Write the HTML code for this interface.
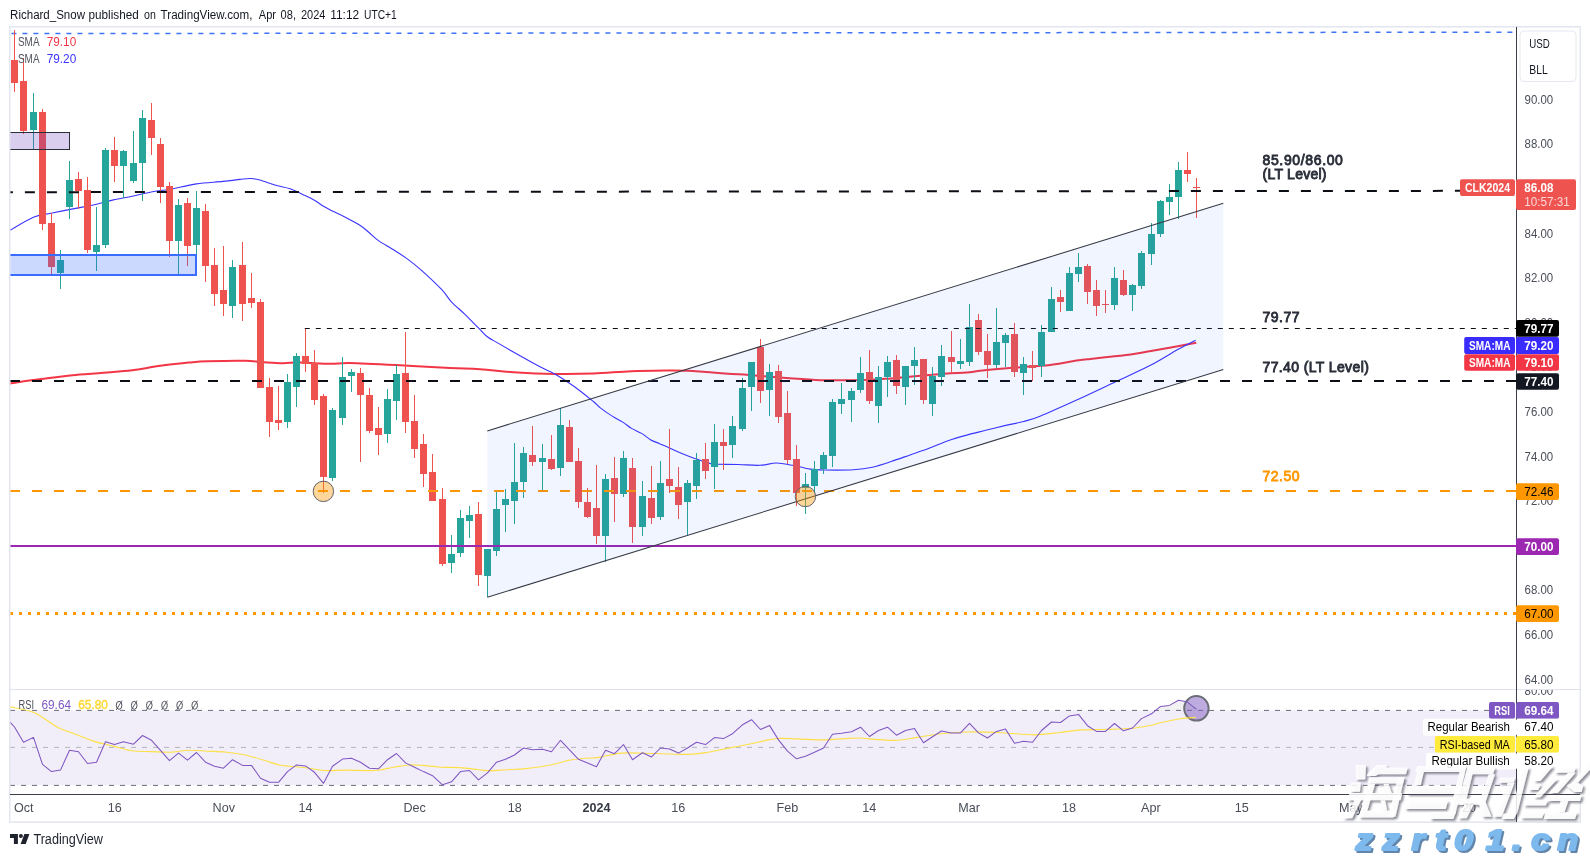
<!DOCTYPE html>
<html><head><meta charset="utf-8"><title>chart</title>
<style>html,body{margin:0;padding:0;background:#fff;}body{width:1590px;height:857px;overflow:hidden;font-family:"Liberation Sans",sans-serif;}svg{display:block;will-change:transform;}</style>
</head><body>
<svg width="1590" height="857" viewBox="0 0 1590 857" font-family='"Liberation Sans", sans-serif'>
<rect x="0" y="0" width="1590" height="857" fill="#ffffff"/>
<rect x="9.75" y="26.75" width="1570.5" height="795.4" fill="none" stroke="#e4e6ef" stroke-width="1.5"/>
<text x="10.1" y="19.20" font-size="12" fill="#131722" textLength="74.9" lengthAdjust="spacingAndGlyphs" >Richard_Snow</text>
<text x="88.6" y="19.20" font-size="12" fill="#131722" textLength="50.1" lengthAdjust="spacingAndGlyphs" >published</text>
<text x="144.0" y="19.20" font-size="12" fill="#131722" textLength="11.8" lengthAdjust="spacingAndGlyphs" >on</text>
<text x="160.6" y="19.20" font-size="12" fill="#131722" textLength="91.8" lengthAdjust="spacingAndGlyphs" >TradingView.com,</text>
<text x="258.8" y="19.20" font-size="12" fill="#131722" textLength="17.2" lengthAdjust="spacingAndGlyphs" >Apr</text>
<text x="280.6" y="19.20" font-size="12" fill="#131722" textLength="15.4" lengthAdjust="spacingAndGlyphs" >08,</text>
<text x="301.0" y="19.20" font-size="12" fill="#131722" textLength="24.4" lengthAdjust="spacingAndGlyphs" >2024</text>
<text x="330.2" y="19.20" font-size="12" fill="#131722" textLength="29.0" lengthAdjust="spacingAndGlyphs" >11:12</text>
<text x="364.0" y="19.20" font-size="12" fill="#131722" textLength="32.7" lengthAdjust="spacingAndGlyphs" >UTC+1</text>
<g font-family='"Liberation Sans", sans-serif'>
<text x="1524.6" y="683.62" font-size="12.6" fill="#4a4e59" textLength="28.6" lengthAdjust="spacingAndGlyphs" >64.00</text>
<text x="1524.6" y="639.02" font-size="12.6" fill="#4a4e59" textLength="28.6" lengthAdjust="spacingAndGlyphs" >66.00</text>
<text x="1524.6" y="594.42" font-size="12.6" fill="#4a4e59" textLength="28.6" lengthAdjust="spacingAndGlyphs" >68.00</text>
<text x="1524.6" y="549.82" font-size="12.6" fill="#4a4e59" textLength="28.6" lengthAdjust="spacingAndGlyphs" >70.00</text>
<text x="1524.6" y="505.22" font-size="12.6" fill="#4a4e59" textLength="28.6" lengthAdjust="spacingAndGlyphs" >72.00</text>
<text x="1524.6" y="460.62" font-size="12.6" fill="#4a4e59" textLength="28.6" lengthAdjust="spacingAndGlyphs" >74.00</text>
<text x="1524.6" y="416.02" font-size="12.6" fill="#4a4e59" textLength="28.6" lengthAdjust="spacingAndGlyphs" >76.00</text>
<text x="1524.6" y="371.42" font-size="12.6" fill="#4a4e59" textLength="28.6" lengthAdjust="spacingAndGlyphs" >78.00</text>
<text x="1524.6" y="326.82" font-size="12.6" fill="#4a4e59" textLength="28.6" lengthAdjust="spacingAndGlyphs" >80.00</text>
<text x="1524.6" y="282.22" font-size="12.6" fill="#4a4e59" textLength="28.6" lengthAdjust="spacingAndGlyphs" >82.00</text>
<text x="1524.6" y="237.62" font-size="12.6" fill="#4a4e59" textLength="28.6" lengthAdjust="spacingAndGlyphs" >84.00</text>
<text x="1524.6" y="193.02" font-size="12.6" fill="#4a4e59" textLength="28.6" lengthAdjust="spacingAndGlyphs" >86.00</text>
<text x="1524.6" y="148.42" font-size="12.6" fill="#4a4e59" textLength="28.6" lengthAdjust="spacingAndGlyphs" >88.00</text>
<text x="1524.6" y="103.82" font-size="12.6" fill="#4a4e59" textLength="28.6" lengthAdjust="spacingAndGlyphs" >90.00</text>
</g>
<clipPath id="mp"><rect x="10.5" y="27.5" width="1505.5" height="662"/></clipPath>
<g clip-path="url(#mp)">
<line x1="11.4" y1="33.6" x2="1513" y2="32.2" stroke="#3f73f7" stroke-width="1.5" stroke-dasharray="5 6"/>
<path d="M10.0 383.4 C14.6 382.8 26.8 381.0 37.7 379.6 C48.6 378.2 62.9 376.1 75.5 374.9 C88.1 373.6 103.2 373.0 113.2 372.1 C123.2 371.2 127.9 370.9 135.8 369.8 C143.7 368.8 151.6 367.0 160.4 365.8 C169.2 364.6 180.8 363.4 188.7 362.6 C196.5 361.9 198.1 361.6 207.5 361.3 C216.9 361.0 235.9 360.6 245.3 360.8 C254.8 361.0 257.9 361.9 264.2 362.3 C270.5 362.7 277.0 363.2 283.0 363.2 C289.0 363.2 292.2 362.4 300.0 362.5 C307.8 362.6 321.7 363.7 330.0 363.8 C338.3 363.9 338.3 362.7 350.0 362.9 C361.7 363.1 383.3 364.3 400.0 365.2 C416.7 366.1 436.7 367.3 450.0 368.0 C463.3 368.7 468.7 368.6 480.0 369.3 C491.3 370.1 505.2 371.7 517.8 372.5 C530.4 373.3 543.0 373.7 555.6 373.9 C568.2 374.1 580.8 373.9 593.4 373.5 C606.0 373.1 618.6 371.7 631.2 371.2 C643.8 370.7 659.5 370.6 669.0 370.5 C678.5 370.4 681.8 370.6 688.0 370.8 C694.2 371.1 699.8 371.6 706.0 372.0 C712.2 372.4 718.7 373.1 725.0 373.5 C731.3 373.9 735.2 374.0 744.0 374.6 C752.8 375.2 765.9 376.5 777.8 377.4 C789.7 378.3 803.0 379.4 815.6 379.9 C828.2 380.4 844.0 380.2 853.4 380.2 C862.8 380.2 866.0 380.0 872.3 379.7 C878.6 379.4 885.5 378.8 891.2 378.4 C896.9 377.9 897.8 377.8 906.7 377.0 C915.6 376.2 934.5 374.6 944.5 373.8 C954.5 373.1 960.5 373.0 966.8 372.5 C973.1 372.0 973.4 371.5 982.3 370.6 C991.2 369.7 1009.6 368.0 1020.1 367.2 C1030.5 366.4 1035.5 366.7 1045.0 365.6 C1054.5 364.5 1069.2 361.7 1076.8 360.6 C1084.4 359.5 1084.1 359.6 1090.4 358.9 C1096.7 358.2 1108.0 356.9 1114.7 356.2 C1121.4 355.5 1124.7 355.4 1130.7 354.5 C1136.7 353.6 1140.0 352.9 1150.9 351.0 C1161.8 349.1 1188.7 344.2 1196.3 342.8" fill="none" stroke="#f23645" stroke-width="2" stroke-linejoin="round"/>
<path d="M10.0 230.2 C14.0 228.0 27.2 219.8 34.0 217.0 C40.8 214.2 44.1 214.6 51.0 213.2 C57.9 211.8 68.3 209.8 75.6 208.4 C82.8 207.0 88.2 206.1 94.5 204.7 C100.8 203.3 107.1 201.3 113.4 199.9 C119.7 198.5 126.0 197.5 132.3 196.2 C138.6 194.9 144.9 193.2 151.2 192.0 C157.5 190.8 162.4 190.5 170.0 189.2 C177.6 187.8 187.8 185.2 196.6 183.9 C205.4 182.6 215.8 182.2 223.0 181.4 C230.2 180.7 235.4 179.9 240.0 179.4 C244.6 178.9 247.3 178.4 250.6 178.5 C253.9 178.6 255.6 178.9 259.7 180.0 C263.8 181.1 269.8 183.5 274.9 185.0 C280.0 186.5 285.3 187.2 290.1 188.8 C294.9 190.5 299.6 193.0 303.7 194.9 C307.8 196.8 311.1 198.3 314.4 200.2 C317.7 202.1 320.5 204.5 323.5 206.3 C326.5 208.1 328.8 209.2 332.6 211.1 C336.4 213.0 341.6 215.3 346.2 217.7 C350.8 220.1 356.1 222.8 359.9 225.3 C363.7 227.8 366.0 230.0 369.0 232.5 C372.0 235.0 374.3 237.7 378.1 240.4 C381.9 243.1 386.9 245.8 391.7 248.8 C396.5 251.8 401.8 254.9 406.9 258.6 C412.0 262.3 416.3 265.6 422.1 270.8 C427.9 276.0 436.9 284.5 441.8 289.7 C446.7 294.9 447.6 297.7 451.4 301.8 C455.2 305.9 460.3 309.8 464.7 314.1 C469.1 318.4 474.1 323.6 477.9 327.4 C481.7 331.2 483.8 334.1 487.3 336.8 C490.8 339.5 493.8 340.6 498.9 343.6 C504.0 346.6 511.5 351.0 517.8 354.6 C524.1 358.2 530.4 361.7 536.7 365.0 C543.0 368.3 549.3 370.8 555.6 374.4 C561.9 378.0 568.2 382.2 574.5 386.7 C580.8 391.2 589.1 398.0 593.4 401.5 C597.6 405.0 596.8 405.1 600.0 407.6 C603.2 410.1 608.8 414.0 612.6 416.4 C616.4 418.8 619.6 420.1 622.7 422.1 C625.9 424.1 628.4 426.5 631.5 428.4 C634.6 430.3 638.5 431.5 641.6 433.4 C644.8 435.3 647.5 438.0 650.4 439.7 C653.3 441.4 656.1 442.1 659.2 443.5 C662.4 444.9 665.5 446.2 669.3 447.9 C673.1 449.6 677.9 451.9 681.9 453.6 C685.9 455.3 690.1 456.9 693.3 458.0 C696.4 459.1 697.9 459.6 700.8 460.5 C703.7 461.4 707.9 463.0 710.9 463.6 C713.9 464.2 713.9 464.2 718.5 464.3 C723.1 464.4 731.7 464.3 738.6 464.5 C745.5 464.7 753.7 465.6 760.0 465.3 C766.3 465.1 770.9 463.0 776.4 463.0 C781.9 463.0 789.4 464.8 792.8 465.3 C796.2 465.8 793.8 465.3 796.7 465.9 C799.6 466.5 805.3 468.4 810.0 469.1 C814.7 469.8 817.8 469.9 825.0 470.0 C832.2 470.1 845.5 470.2 853.4 469.7 C861.3 469.2 866.0 468.6 872.3 467.2 C878.6 465.8 884.9 463.6 891.2 461.5 C897.5 459.4 903.8 457.1 910.1 454.9 C916.4 452.7 922.7 450.7 929.0 448.3 C935.3 445.9 941.7 442.9 948.0 440.7 C954.3 438.5 960.5 436.8 966.8 435.1 C973.1 433.4 979.4 431.9 985.7 430.3 C992.0 428.7 998.4 427.1 1004.7 425.6 C1011.0 424.1 1017.7 423.1 1023.6 421.5 C1029.5 419.9 1031.0 419.9 1040.0 416.2 C1049.0 412.5 1065.2 405.2 1077.8 399.5 C1090.4 393.8 1103.4 387.5 1115.6 381.8 C1127.8 376.1 1140.4 370.6 1150.9 365.1 C1161.4 359.7 1171.1 353.2 1178.6 349.1 C1186.0 345.0 1192.8 341.7 1195.6 340.2" fill="none" stroke="#3a33ff" stroke-width="1.1" stroke-linejoin="round"/>
<g shape-rendering="crispEdges">
<rect x="14.0" y="30" width="1" height="62" fill="#ef5350"/>
<rect x="11.0" y="60" width="7" height="23" fill="#ef5350"/>
<rect x="23.0" y="58" width="1" height="76" fill="#ef5350"/>
<rect x="20.0" y="81" width="7" height="50" fill="#ef5350"/>
<rect x="33.0" y="93" width="1" height="56" fill="#26a69a"/>
<rect x="30.0" y="112" width="7" height="18" fill="#26a69a"/>
<rect x="42.0" y="109" width="1" height="121" fill="#ef5350"/>
<rect x="39.0" y="112" width="7" height="112" fill="#ef5350"/>
<rect x="51.0" y="213" width="1" height="62" fill="#ef5350"/>
<rect x="48.0" y="223" width="7" height="44" fill="#ef5350"/>
<rect x="60.0" y="250" width="1" height="39" fill="#26a69a"/>
<rect x="57.0" y="260" width="7" height="13" fill="#26a69a"/>
<rect x="69.0" y="161" width="1" height="58" fill="#26a69a"/>
<rect x="66.0" y="180" width="7" height="27" fill="#26a69a"/>
<rect x="78.0" y="172" width="1" height="37" fill="#ef5350"/>
<rect x="75.0" y="179" width="7" height="12" fill="#ef5350"/>
<rect x="87.0" y="177" width="1" height="76" fill="#ef5350"/>
<rect x="84.0" y="190" width="7" height="60" fill="#ef5350"/>
<rect x="96.0" y="207" width="1" height="64" fill="#26a69a"/>
<rect x="93.0" y="245" width="7" height="7" fill="#26a69a"/>
<rect x="105.0" y="148" width="1" height="100" fill="#26a69a"/>
<rect x="102.0" y="150" width="7" height="95" fill="#26a69a"/>
<rect x="114.0" y="137" width="1" height="45" fill="#ef5350"/>
<rect x="111.0" y="150" width="7" height="16" fill="#ef5350"/>
<rect x="123.0" y="150" width="1" height="48" fill="#26a69a"/>
<rect x="120.0" y="151" width="7" height="15" fill="#26a69a"/>
<rect x="133.0" y="131" width="1" height="52" fill="#26a69a"/>
<rect x="130.0" y="163" width="7" height="18" fill="#26a69a"/>
<rect x="142.0" y="110" width="1" height="91" fill="#26a69a"/>
<rect x="139.0" y="118" width="7" height="45" fill="#26a69a"/>
<rect x="151.0" y="103" width="1" height="52" fill="#ef5350"/>
<rect x="148.0" y="120" width="7" height="18" fill="#ef5350"/>
<rect x="160.0" y="138" width="1" height="65" fill="#ef5350"/>
<rect x="157.0" y="144" width="7" height="43" fill="#ef5350"/>
<rect x="169.0" y="182" width="1" height="75" fill="#ef5350"/>
<rect x="166.0" y="186" width="7" height="55" fill="#ef5350"/>
<rect x="178.0" y="199" width="1" height="77" fill="#26a69a"/>
<rect x="175.0" y="205" width="7" height="36" fill="#26a69a"/>
<rect x="187.0" y="198" width="1" height="68" fill="#ef5350"/>
<rect x="184.0" y="203" width="7" height="43" fill="#ef5350"/>
<rect x="196.0" y="191" width="1" height="64" fill="#26a69a"/>
<rect x="193.0" y="208" width="7" height="37" fill="#26a69a"/>
<rect x="205.0" y="204" width="1" height="78" fill="#ef5350"/>
<rect x="202.0" y="211" width="7" height="55" fill="#ef5350"/>
<rect x="214.0" y="248" width="1" height="58" fill="#ef5350"/>
<rect x="211.0" y="265" width="7" height="29" fill="#ef5350"/>
<rect x="223.0" y="246" width="1" height="70" fill="#ef5350"/>
<rect x="220.0" y="290" width="7" height="14" fill="#ef5350"/>
<rect x="232.0" y="260" width="1" height="58" fill="#26a69a"/>
<rect x="229.0" y="267" width="7" height="39" fill="#26a69a"/>
<rect x="242.0" y="242" width="1" height="79" fill="#ef5350"/>
<rect x="239.0" y="265" width="7" height="39" fill="#ef5350"/>
<rect x="251.0" y="273" width="1" height="35" fill="#ef5350"/>
<rect x="248.0" y="298" width="7" height="5" fill="#ef5350"/>
<rect x="260.0" y="299" width="1" height="89" fill="#ef5350"/>
<rect x="257.0" y="302" width="7" height="86" fill="#ef5350"/>
<rect x="269.0" y="378" width="1" height="59" fill="#ef5350"/>
<rect x="266.0" y="387" width="7" height="35" fill="#ef5350"/>
<rect x="278.0" y="386" width="1" height="44" fill="#ef5350"/>
<rect x="275.0" y="420" width="7" height="3" fill="#ef5350"/>
<rect x="287.0" y="374" width="1" height="54" fill="#26a69a"/>
<rect x="284.0" y="382" width="7" height="40" fill="#26a69a"/>
<rect x="296.0" y="353" width="1" height="54" fill="#26a69a"/>
<rect x="293.0" y="356" width="7" height="31" fill="#26a69a"/>
<rect x="305.0" y="328" width="1" height="44" fill="#ef5350"/>
<rect x="302.0" y="356" width="7" height="8" fill="#ef5350"/>
<rect x="314.0" y="350" width="1" height="55" fill="#ef5350"/>
<rect x="311.0" y="363" width="7" height="37" fill="#ef5350"/>
<rect x="323.0" y="394" width="1" height="99" fill="#ef5350"/>
<rect x="320.0" y="396" width="7" height="81" fill="#ef5350"/>
<rect x="332.0" y="408" width="1" height="73" fill="#26a69a"/>
<rect x="329.0" y="410" width="7" height="68" fill="#26a69a"/>
<rect x="342.0" y="357" width="1" height="68" fill="#26a69a"/>
<rect x="339.0" y="377" width="7" height="41" fill="#26a69a"/>
<rect x="351.0" y="369" width="1" height="23" fill="#26a69a"/>
<rect x="348.0" y="372" width="7" height="4" fill="#26a69a"/>
<rect x="360.0" y="368" width="1" height="94" fill="#ef5350"/>
<rect x="357.0" y="373" width="7" height="22" fill="#ef5350"/>
<rect x="369.0" y="388" width="1" height="45" fill="#ef5350"/>
<rect x="366.0" y="395" width="7" height="36" fill="#ef5350"/>
<rect x="378.0" y="407" width="1" height="48" fill="#ef5350"/>
<rect x="375.0" y="428" width="7" height="7" fill="#ef5350"/>
<rect x="387.0" y="389" width="1" height="54" fill="#26a69a"/>
<rect x="384.0" y="399" width="7" height="35" fill="#26a69a"/>
<rect x="396.0" y="365" width="1" height="55" fill="#26a69a"/>
<rect x="393.0" y="374" width="7" height="27" fill="#26a69a"/>
<rect x="405.0" y="332" width="1" height="101" fill="#ef5350"/>
<rect x="402.0" y="373" width="7" height="49" fill="#ef5350"/>
<rect x="414.0" y="395" width="1" height="63" fill="#ef5350"/>
<rect x="411.0" y="421" width="7" height="28" fill="#ef5350"/>
<rect x="423.0" y="434" width="1" height="53" fill="#ef5350"/>
<rect x="420.0" y="444" width="7" height="30" fill="#ef5350"/>
<rect x="432.0" y="454" width="1" height="47" fill="#ef5350"/>
<rect x="429.0" y="472" width="7" height="29" fill="#ef5350"/>
<rect x="442.0" y="488" width="1" height="78" fill="#ef5350"/>
<rect x="439.0" y="499" width="7" height="65" fill="#ef5350"/>
<rect x="451.0" y="535" width="1" height="38" fill="#26a69a"/>
<rect x="448.0" y="554" width="7" height="9" fill="#26a69a"/>
<rect x="460.0" y="510" width="1" height="47" fill="#26a69a"/>
<rect x="457.0" y="518" width="7" height="35" fill="#26a69a"/>
<rect x="469.0" y="506" width="1" height="32" fill="#26a69a"/>
<rect x="466.0" y="515" width="7" height="6" fill="#26a69a"/>
<rect x="478.0" y="502" width="1" height="84" fill="#ef5350"/>
<rect x="475.0" y="514" width="7" height="61" fill="#ef5350"/>
<rect x="487.0" y="549" width="1" height="48" fill="#26a69a"/>
<rect x="484.0" y="549" width="7" height="27" fill="#26a69a"/>
<rect x="496.0" y="492" width="1" height="64" fill="#26a69a"/>
<rect x="493.0" y="509" width="7" height="42" fill="#26a69a"/>
<rect x="505.0" y="489" width="1" height="43" fill="#26a69a"/>
<rect x="502.0" y="499" width="7" height="6" fill="#26a69a"/>
<rect x="514.0" y="443" width="1" height="81" fill="#26a69a"/>
<rect x="511.0" y="482" width="7" height="19" fill="#26a69a"/>
<rect x="523.0" y="447" width="1" height="51" fill="#26a69a"/>
<rect x="520.0" y="453" width="7" height="29" fill="#26a69a"/>
<rect x="532.0" y="426" width="1" height="40" fill="#ef5350"/>
<rect x="529.0" y="455" width="7" height="7" fill="#ef5350"/>
<rect x="542.0" y="444" width="1" height="47" fill="#26a69a"/>
<rect x="539.0" y="458" width="7" height="4" fill="#26a69a"/>
<rect x="551.0" y="435" width="1" height="35" fill="#ef5350"/>
<rect x="548.0" y="459" width="7" height="10" fill="#ef5350"/>
<rect x="560.0" y="408" width="1" height="68" fill="#26a69a"/>
<rect x="557.0" y="425" width="7" height="43" fill="#26a69a"/>
<rect x="569.0" y="420" width="1" height="42" fill="#ef5350"/>
<rect x="566.0" y="427" width="7" height="35" fill="#ef5350"/>
<rect x="578.0" y="448" width="1" height="60" fill="#ef5350"/>
<rect x="575.0" y="461" width="7" height="41" fill="#ef5350"/>
<rect x="587.0" y="488" width="1" height="30" fill="#ef5350"/>
<rect x="584.0" y="502" width="7" height="15" fill="#ef5350"/>
<rect x="596.0" y="465" width="1" height="79" fill="#ef5350"/>
<rect x="593.0" y="508" width="7" height="28" fill="#ef5350"/>
<rect x="605.0" y="474" width="1" height="88" fill="#26a69a"/>
<rect x="602.0" y="479" width="7" height="57" fill="#26a69a"/>
<rect x="614.0" y="457" width="1" height="65" fill="#ef5350"/>
<rect x="611.0" y="478" width="7" height="16" fill="#ef5350"/>
<rect x="623.0" y="451" width="1" height="46" fill="#26a69a"/>
<rect x="620.0" y="458" width="7" height="36" fill="#26a69a"/>
<rect x="632.0" y="458" width="1" height="85" fill="#ef5350"/>
<rect x="629.0" y="468" width="7" height="59" fill="#ef5350"/>
<rect x="642.0" y="481" width="1" height="55" fill="#26a69a"/>
<rect x="639.0" y="496" width="7" height="31" fill="#26a69a"/>
<rect x="651.0" y="466" width="1" height="58" fill="#ef5350"/>
<rect x="648.0" y="498" width="7" height="20" fill="#ef5350"/>
<rect x="660.0" y="461" width="1" height="59" fill="#26a69a"/>
<rect x="657.0" y="483" width="7" height="34" fill="#26a69a"/>
<rect x="669.0" y="429" width="1" height="64" fill="#ef5350"/>
<rect x="666.0" y="479" width="7" height="7" fill="#ef5350"/>
<rect x="678.0" y="467" width="1" height="52" fill="#ef5350"/>
<rect x="675.0" y="487" width="7" height="18" fill="#ef5350"/>
<rect x="687.0" y="480" width="1" height="55" fill="#26a69a"/>
<rect x="684.0" y="483" width="7" height="19" fill="#26a69a"/>
<rect x="696.0" y="453" width="1" height="46" fill="#26a69a"/>
<rect x="693.0" y="460" width="7" height="26" fill="#26a69a"/>
<rect x="705.0" y="443" width="1" height="36" fill="#ef5350"/>
<rect x="702.0" y="459" width="7" height="12" fill="#ef5350"/>
<rect x="714.0" y="424" width="1" height="65" fill="#26a69a"/>
<rect x="711.0" y="442" width="7" height="25" fill="#26a69a"/>
<rect x="723.0" y="429" width="1" height="41" fill="#ef5350"/>
<rect x="720.0" y="442" width="7" height="4" fill="#ef5350"/>
<rect x="732.0" y="416" width="1" height="42" fill="#26a69a"/>
<rect x="729.0" y="426" width="7" height="19" fill="#26a69a"/>
<rect x="742.0" y="378" width="1" height="53" fill="#26a69a"/>
<rect x="739.0" y="388" width="7" height="41" fill="#26a69a"/>
<rect x="751.0" y="362" width="1" height="49" fill="#26a69a"/>
<rect x="748.0" y="362" width="7" height="25" fill="#26a69a"/>
<rect x="760.0" y="339" width="1" height="64" fill="#ef5350"/>
<rect x="757.0" y="347" width="7" height="44" fill="#ef5350"/>
<rect x="769.0" y="364" width="1" height="52" fill="#26a69a"/>
<rect x="766.0" y="372" width="7" height="18" fill="#26a69a"/>
<rect x="778.0" y="365" width="1" height="58" fill="#ef5350"/>
<rect x="775.0" y="371" width="7" height="46" fill="#ef5350"/>
<rect x="787.0" y="391" width="1" height="73" fill="#ef5350"/>
<rect x="784.0" y="413" width="7" height="47" fill="#ef5350"/>
<rect x="796.0" y="445" width="1" height="61" fill="#ef5350"/>
<rect x="793.0" y="459" width="7" height="34" fill="#ef5350"/>
<rect x="805.0" y="473" width="1" height="41" fill="#26a69a"/>
<rect x="802.0" y="484" width="7" height="4" fill="#26a69a"/>
<rect x="814.0" y="461" width="1" height="32" fill="#26a69a"/>
<rect x="811.0" y="469" width="7" height="17" fill="#26a69a"/>
<rect x="823.0" y="452" width="1" height="22" fill="#26a69a"/>
<rect x="820.0" y="455" width="7" height="14" fill="#26a69a"/>
<rect x="832.0" y="399" width="1" height="68" fill="#26a69a"/>
<rect x="829.0" y="402" width="7" height="54" fill="#26a69a"/>
<rect x="841.0" y="383" width="1" height="31" fill="#26a69a"/>
<rect x="838.0" y="399" width="7" height="5" fill="#26a69a"/>
<rect x="851.0" y="388" width="1" height="34" fill="#26a69a"/>
<rect x="848.0" y="391" width="7" height="9" fill="#26a69a"/>
<rect x="860.0" y="357" width="1" height="36" fill="#26a69a"/>
<rect x="857.0" y="373" width="7" height="17" fill="#26a69a"/>
<rect x="869.0" y="350" width="1" height="54" fill="#ef5350"/>
<rect x="866.0" y="372" width="7" height="29" fill="#ef5350"/>
<rect x="878.0" y="366" width="1" height="57" fill="#26a69a"/>
<rect x="875.0" y="377" width="7" height="29" fill="#26a69a"/>
<rect x="887.0" y="356" width="1" height="41" fill="#26a69a"/>
<rect x="884.0" y="362" width="7" height="15" fill="#26a69a"/>
<rect x="896.0" y="355" width="1" height="39" fill="#ef5350"/>
<rect x="893.0" y="360" width="7" height="26" fill="#ef5350"/>
<rect x="905.0" y="366" width="1" height="39" fill="#26a69a"/>
<rect x="902.0" y="366" width="7" height="21" fill="#26a69a"/>
<rect x="914.0" y="347" width="1" height="38" fill="#26a69a"/>
<rect x="911.0" y="360" width="7" height="6" fill="#26a69a"/>
<rect x="923.0" y="359" width="1" height="45" fill="#ef5350"/>
<rect x="920.0" y="359" width="7" height="41" fill="#ef5350"/>
<rect x="932.0" y="367" width="1" height="49" fill="#26a69a"/>
<rect x="929.0" y="376" width="7" height="28" fill="#26a69a"/>
<rect x="941.0" y="345" width="1" height="41" fill="#26a69a"/>
<rect x="938.0" y="356" width="7" height="21" fill="#26a69a"/>
<rect x="951.0" y="331" width="1" height="41" fill="#ef5350"/>
<rect x="948.0" y="357" width="7" height="5" fill="#ef5350"/>
<rect x="960.0" y="339" width="1" height="30" fill="#26a69a"/>
<rect x="957.0" y="361" width="7" height="3" fill="#26a69a"/>
<rect x="969.0" y="304" width="1" height="62" fill="#26a69a"/>
<rect x="966.0" y="327" width="7" height="35" fill="#26a69a"/>
<rect x="978.0" y="314" width="1" height="41" fill="#ef5350"/>
<rect x="975.0" y="320" width="7" height="32" fill="#ef5350"/>
<rect x="987.0" y="334" width="1" height="44" fill="#ef5350"/>
<rect x="984.0" y="351" width="7" height="14" fill="#ef5350"/>
<rect x="996.0" y="308" width="1" height="60" fill="#26a69a"/>
<rect x="993.0" y="342" width="7" height="23" fill="#26a69a"/>
<rect x="1005.0" y="333" width="1" height="34" fill="#26a69a"/>
<rect x="1002.0" y="335" width="7" height="8" fill="#26a69a"/>
<rect x="1014.0" y="323" width="1" height="54" fill="#ef5350"/>
<rect x="1011.0" y="334" width="7" height="38" fill="#ef5350"/>
<rect x="1023.0" y="357" width="1" height="38" fill="#26a69a"/>
<rect x="1020.0" y="364" width="7" height="9" fill="#26a69a"/>
<rect x="1032.0" y="351" width="1" height="30" fill="#ef5350"/>
<rect x="1029.0" y="365" width="7" height="3" fill="#ef5350"/>
<rect x="1041.0" y="325" width="1" height="52" fill="#26a69a"/>
<rect x="1038.0" y="332" width="7" height="34" fill="#26a69a"/>
<rect x="1051.0" y="287" width="1" height="45" fill="#26a69a"/>
<rect x="1048.0" y="299" width="7" height="33" fill="#26a69a"/>
<rect x="1060.0" y="290" width="1" height="22" fill="#ef5350"/>
<rect x="1057.0" y="297" width="7" height="5" fill="#ef5350"/>
<rect x="1069.0" y="267" width="1" height="44" fill="#26a69a"/>
<rect x="1066.0" y="273" width="7" height="38" fill="#26a69a"/>
<rect x="1078.0" y="253" width="1" height="29" fill="#26a69a"/>
<rect x="1075.0" y="267" width="7" height="7" fill="#26a69a"/>
<rect x="1087.0" y="264" width="1" height="40" fill="#ef5350"/>
<rect x="1084.0" y="266" width="7" height="26" fill="#ef5350"/>
<rect x="1096.0" y="280" width="1" height="36" fill="#ef5350"/>
<rect x="1093.0" y="290" width="7" height="16" fill="#ef5350"/>
<rect x="1105.0" y="290" width="1" height="23" fill="#ef5350"/>
<rect x="1102.0" y="304" width="7" height="1" fill="#ef5350"/>
<rect x="1114.0" y="267" width="1" height="43" fill="#26a69a"/>
<rect x="1111.0" y="278" width="7" height="27" fill="#26a69a"/>
<rect x="1123.0" y="270" width="1" height="26" fill="#ef5350"/>
<rect x="1120.0" y="280" width="7" height="15" fill="#ef5350"/>
<rect x="1132.0" y="284" width="1" height="27" fill="#26a69a"/>
<rect x="1129.0" y="285" width="7" height="10" fill="#26a69a"/>
<rect x="1141.0" y="251" width="1" height="38" fill="#26a69a"/>
<rect x="1138.0" y="253" width="7" height="33" fill="#26a69a"/>
<rect x="1151.0" y="223" width="1" height="42" fill="#26a69a"/>
<rect x="1148.0" y="234" width="7" height="20" fill="#26a69a"/>
<rect x="1160.0" y="200" width="1" height="37" fill="#26a69a"/>
<rect x="1157.0" y="201" width="7" height="33" fill="#26a69a"/>
<rect x="1169.0" y="184" width="1" height="31" fill="#26a69a"/>
<rect x="1166.0" y="197" width="7" height="5" fill="#26a69a"/>
<rect x="1178.0" y="162" width="1" height="57" fill="#26a69a"/>
<rect x="1175.0" y="170" width="7" height="27" fill="#26a69a"/>
<rect x="1187.0" y="152" width="1" height="30" fill="#ef5350"/>
<rect x="1184.0" y="170" width="7" height="4" fill="#ef5350"/>
<rect x="1196.0" y="178" width="1" height="40" fill="#ef5350"/>
<rect x="1193.0" y="187" width="7" height="1" fill="#ef5350"/>
</g>
<line x1="10" y1="192.2" x2="1461" y2="190.85" stroke="#0c0e15" stroke-width="2" stroke-dasharray="10 12" stroke-dashoffset="7.1"/>
<line x1="10" y1="381" x2="1516" y2="381" stroke="#0c0e15" stroke-width="2" stroke-dasharray="10 12"/>
<line x1="304.8" y1="328.5" x2="1516" y2="328.5" stroke="#0c0e15" stroke-width="1" stroke-dasharray="5 6"/>
<line x1="10" y1="491" x2="1516" y2="491" stroke="#ff9800" stroke-width="2" stroke-dasharray="10 12"/>
<line x1="10" y1="546" x2="1516" y2="546" stroke="#9c27b0" stroke-width="2"/>
<line x1="10" y1="613.5" x2="1516" y2="613.5" stroke="#ff9800" stroke-width="3" stroke-dasharray="3 6"/>
<rect x="9.5" y="132.5" width="60" height="17" fill="rgba(103,58,183,0.25)" stroke="#2a2e39" stroke-width="1"/>
<rect x="9" y="255" width="187" height="20" fill="rgba(41,98,255,0.24)" stroke="#3a6cff" stroke-width="2"/>
<polygon points="487.3,430.9 1223.3,203.3 1223.3,369.6 487.3,597.3" fill="rgba(41,98,255,0.065)"/>
<line x1="487.3" y1="430.9" x2="1223.3" y2="203.3" stroke="#363a45" stroke-width="1.05"/>
<line x1="487.3" y1="597.3" x2="1223.3" y2="369.6" stroke="#363a45" stroke-width="1.05"/>
<circle cx="323.4" cy="491.4" r="10.2" fill="rgba(255,152,0,0.4)" stroke="#5d606b" stroke-width="1"/>
<circle cx="805.4" cy="496.5" r="10.2" fill="rgba(255,152,0,0.4)" stroke="#5d606b" stroke-width="1"/>
<g font-family='"Liberation Sans", sans-serif'>
<text x="1262.5" y="164.65" font-size="14" fill="#2a2e39" textLength="80.4" lengthAdjust="spacing" stroke="#2a2e39" stroke-width="0.85">85.90/86.00</text>
<text x="1262.5" y="178.95" font-size="14" fill="#2a2e39" textLength="64.0" lengthAdjust="spacing" stroke="#2a2e39" stroke-width="0.85">(LT Level)</text>
<text x="1262.5" y="322.05" font-size="14" fill="#2a2e39" textLength="37.0" lengthAdjust="spacing" stroke="#2a2e39" stroke-width="0.85">79.77</text>
<text x="1262.5" y="371.95" font-size="14" fill="#2a2e39" textLength="106.3" lengthAdjust="spacing" stroke="#2a2e39" stroke-width="0.85">77.40 (LT Level)</text>
<text x="1262.5" y="480.65" font-size="14" fill="#ff9800" textLength="37.0" lengthAdjust="spacing" stroke="#ff9800" stroke-width="0.85">72.50</text>
<text x="18.0" y="45.92" font-size="12.6" fill="#50535e" textLength="21.5" lengthAdjust="spacingAndGlyphs" >SMA</text>
<text x="46.7" y="45.92" font-size="12.6" fill="#f23645" textLength="29.5" lengthAdjust="spacingAndGlyphs" >79.10</text>
<text x="18.0" y="62.52" font-size="12.6" fill="#50535e" textLength="21.5" lengthAdjust="spacingAndGlyphs" >SMA</text>
<text x="46.7" y="62.52" font-size="12.6" fill="#3a33ff" textLength="29.5" lengthAdjust="spacingAndGlyphs" >79.20</text>
</g>
</g>
<line x1="10" y1="689.5" x2="1580" y2="689.5" stroke="#e0e3eb" stroke-width="1"/>
<clipPath id="rp"><rect x="10.5" y="690" width="1505.5" height="104"/></clipPath>
<g clip-path="url(#rp)">
<rect x="10" y="710.4" width="1506" height="75" fill="rgba(126,87,194,0.1)"/>
<line x1="10" y1="710.4" x2="1489" y2="710.4" stroke="#6a6d78" stroke-width="1" stroke-dasharray="5 6"/>
<line x1="10" y1="747.4" x2="1516" y2="747.4" stroke="#b2b5be" stroke-width="1" stroke-dasharray="5 6"/>
<line x1="10" y1="785.4" x2="1516" y2="785.4" stroke="#6a6d78" stroke-width="1" stroke-dasharray="5 6"/>
<circle cx="1196.4" cy="708.3" r="12.2" fill="rgba(126,87,194,0.5)" stroke="#6b6e78" stroke-width="2"/>
<path d="M10.0 706.9 C14.0 707.8 26.2 709.2 34.0 712.5 C41.8 715.8 49.7 723.1 56.6 726.7 C63.5 730.3 69.2 731.8 75.5 734.2 C81.8 736.7 88.0 739.4 94.3 741.4 C100.6 743.4 106.9 744.5 113.2 746.1 C119.5 747.7 125.7 749.9 132.0 750.8 C138.3 751.7 144.7 751.4 151.0 751.6 C157.3 751.8 163.5 752.4 169.8 752.2 C176.1 752.0 182.4 750.5 188.7 750.3 C195.0 750.1 201.2 750.9 207.5 751.2 C213.8 751.5 220.1 751.6 226.4 752.2 C232.7 752.8 239.0 753.6 245.3 755.0 C251.6 756.4 258.6 758.6 264.2 760.3 C269.8 762.0 274.9 764.0 279.2 765.0 C283.5 766.0 285.1 765.7 290.0 766.2 C294.9 766.7 303.2 767.5 308.9 768.2 C314.6 768.9 317.7 770.2 324.0 770.5 C330.3 770.8 338.1 770.1 346.6 770.1 C355.1 770.1 367.0 771.0 374.9 770.5 C382.8 770.0 388.1 768.1 393.8 767.2 C399.5 766.3 404.2 765.3 408.9 765.0 C413.6 764.7 416.6 765.0 422.0 765.4 C427.4 765.8 434.7 766.8 441.0 767.2 C447.3 767.6 453.5 767.2 459.8 767.6 C466.1 768.0 473.7 769.2 478.7 769.7 C483.7 770.2 485.3 770.6 490.0 770.6 C494.7 770.6 501.0 770.0 507.0 769.7 C513.0 769.4 518.6 769.4 525.8 768.6 C533.0 767.8 543.2 766.4 550.4 765.0 C557.6 763.6 563.4 761.4 569.2 760.3 C575.0 759.2 580.0 758.8 585.0 758.3 C590.0 757.8 592.8 758.3 598.9 757.4 C605.0 756.5 612.1 753.8 621.5 753.1 C630.9 752.5 644.5 753.3 655.5 753.5 C666.5 753.7 678.7 754.6 687.5 754.4 C696.3 754.2 701.7 753.2 708.3 752.2 C714.9 751.2 720.3 749.8 727.2 748.4 C734.1 747.0 742.9 745.4 749.8 744.0 C756.7 742.6 763.7 740.8 768.7 739.9 C773.7 739.0 775.3 738.6 780.0 738.4 C784.7 738.2 789.8 738.6 797.0 738.9 C804.2 739.1 815.5 739.9 823.4 739.9 C831.3 739.9 838.2 738.9 844.2 738.6 C850.2 738.3 854.1 737.9 859.2 738.0 C864.3 738.1 868.8 739.0 875.0 739.4 C881.2 739.8 889.4 740.6 896.4 740.3 C903.4 740.0 909.7 738.5 917.2 737.4 C924.8 736.3 933.2 734.6 941.7 733.7 C950.2 732.8 958.1 732.2 968.1 732.0 C978.1 731.8 991.0 732.2 1002.0 732.7 C1013.0 733.2 1024.5 734.8 1034.0 734.8 C1043.5 734.8 1050.8 733.5 1058.7 732.7 C1066.6 731.9 1073.5 730.4 1081.3 729.9 C1089.1 729.4 1097.3 729.8 1105.8 729.5 C1114.3 729.2 1124.8 729.0 1132.3 728.3 C1139.8 727.6 1146.3 726.1 1151.0 725.2 C1155.7 724.3 1155.3 723.8 1160.2 722.7 C1165.1 721.6 1174.3 719.6 1180.3 718.7 C1186.2 717.8 1193.3 717.6 1195.9 717.4" fill="none" stroke="#fde047" stroke-width="1.15" stroke-linejoin="round"/>
<polygon points="1155.5,710.4 1160.5,706.4 1169.5,705.4 1178.5,700.3 1187.5,702.1 1196.5,709.4 1196.5,710.4" fill="rgba(120,130,120,0.10)"/>
<polyline points="10.0,722.2 14.5,727.0 23.5,742.2 33.5,737.4 42.5,764.4 51.5,771.6 60.5,770.1 69.5,750.3 78.5,751.8 87.5,763.5 96.5,762.2 105.5,741.8 114.5,744.6 123.5,741.8 133.5,744.2 142.5,735.5 151.5,740.3 160.5,750.3 169.5,760.6 178.5,753.1 187.5,760.1 196.5,752.5 205.5,762.2 214.5,766.3 223.5,768.2 232.5,759.7 242.5,765.4 251.5,765.4 260.5,778.2 269.5,782.3 278.5,782.3 287.5,771.6 296.5,764.9 305.5,765.9 314.5,772.3 323.5,783.3 332.5,766.3 342.5,759.1 351.5,758.2 360.5,762.2 369.5,768.2 378.5,768.8 387.5,759.7 396.5,753.5 405.5,762.9 414.5,767.2 423.5,771.6 432.5,775.7 442.5,784.8 451.5,781.8 460.5,771.6 469.5,770.5 478.5,779.9 487.5,772.9 496.5,762.2 505.5,759.3 514.5,755.0 523.5,748.0 532.5,749.7 542.5,749.3 551.5,751.8 560.5,740.3 569.5,749.9 578.5,759.3 587.5,763.1 596.5,766.7 605.5,750.3 614.5,753.7 623.5,744.6 632.5,759.7 642.5,752.7 651.5,756.9 660.5,748.0 669.5,748.9 678.5,753.1 687.5,748.0 696.5,742.2 705.5,744.6 714.5,737.6 723.5,738.6 732.5,733.7 742.5,724.8 751.5,719.7 760.5,729.5 769.5,725.4 778.5,739.9 787.5,751.2 796.5,758.8 805.5,756.3 814.5,752.2 823.5,748.0 832.5,734.2 841.5,733.3 851.5,731.8 860.5,727.2 869.5,736.5 878.5,730.5 887.5,727.2 896.5,735.2 905.5,730.5 914.5,728.6 923.5,742.7 932.5,736.7 941.5,731.0 951.5,732.9 960.5,732.9 969.5,723.3 978.5,732.9 987.5,738.0 996.5,731.4 1005.5,729.1 1014.5,743.3 1023.5,741.2 1032.5,742.2 1041.5,730.5 1051.5,722.0 1060.5,722.5 1069.5,715.9 1078.5,714.4 1087.5,725.7 1096.5,731.4 1105.5,731.4 1114.5,723.5 1123.5,730.8 1132.5,728.0 1141.5,718.6 1151.5,713.8 1160.5,706.4 1169.5,705.4 1178.5,700.3 1187.5,702.1 1196.5,709.4" fill="none" stroke="#7e57c2" stroke-width="1.05" stroke-linejoin="round"/>
<g font-family='"Liberation Sans", sans-serif'>
<text x="18.5" y="709.32" font-size="12.6" fill="#50535e" textLength="15.5" lengthAdjust="spacingAndGlyphs" >RSI</text>
<text x="41.5" y="709.32" font-size="12.6" fill="#7e57c2" textLength="29.5" lengthAdjust="spacingAndGlyphs" >69.64</text>
<text x="78.3" y="709.32" font-size="12.6" fill="#fdd835" textLength="29.5" lengthAdjust="spacingAndGlyphs" stroke="#fdd835" stroke-width="0.45">65.80</text>
<ellipse cx="119.1" cy="705.3" rx="2.8" ry="4.0" fill="none" stroke="#50535e" stroke-width="1"/>
<line x1="116.2" y1="710" x2="122.0" y2="700.6" stroke="#50535e" stroke-width="0.9"/>
<ellipse cx="134.2" cy="705.3" rx="2.8" ry="4.0" fill="none" stroke="#50535e" stroke-width="1"/>
<line x1="131.3" y1="710" x2="137.1" y2="700.6" stroke="#50535e" stroke-width="0.9"/>
<ellipse cx="149.3" cy="705.3" rx="2.8" ry="4.0" fill="none" stroke="#50535e" stroke-width="1"/>
<line x1="146.4" y1="710" x2="152.2" y2="700.6" stroke="#50535e" stroke-width="0.9"/>
<ellipse cx="164.5" cy="705.3" rx="2.8" ry="4.0" fill="none" stroke="#50535e" stroke-width="1"/>
<line x1="161.6" y1="710" x2="167.4" y2="700.6" stroke="#50535e" stroke-width="0.9"/>
<ellipse cx="179.6" cy="705.3" rx="2.8" ry="4.0" fill="none" stroke="#50535e" stroke-width="1"/>
<line x1="176.7" y1="710" x2="182.5" y2="700.6" stroke="#50535e" stroke-width="0.9"/>
<ellipse cx="194.7" cy="705.3" rx="2.8" ry="4.0" fill="none" stroke="#50535e" stroke-width="1"/>
<line x1="191.8" y1="710" x2="197.6" y2="700.6" stroke="#50535e" stroke-width="0.9"/>
</g>
</g>
<clipPath id="ra"><rect x="1517" y="690" width="63" height="104"/></clipPath>
<g clip-path="url(#ra)" font-family='"Liberation Sans", sans-serif'>
<text x="1524.6" y="694.82" font-size="12.6" fill="#4a4e59" textLength="28.6" lengthAdjust="spacingAndGlyphs" >80.00</text>
</g>
<line x1="1516.5" y1="27" x2="1516.5" y2="822" stroke="#3a3e4b" stroke-width="1"/>
<line x1="10" y1="794.5" x2="1580" y2="794.5" stroke="#3a3e4b" stroke-width="1"/>
<g font-family='"Liberation Sans", sans-serif'>
<rect x="1520" y="31" width="56" height="50.5" rx="4" ry="4" fill="#ffffff" stroke="#e6e8f0" stroke-width="1"/>
<text x="1529.3" y="47.54" font-size="12.9" fill="#131722" textLength="20.5" lengthAdjust="spacingAndGlyphs" >USD</text>
<text x="1529.3" y="73.74" font-size="12.9" fill="#131722" textLength="18.5" lengthAdjust="spacingAndGlyphs" >BLL</text>
<rect x="1460.0" y="179.2" width="55.0" height="16.8" rx="2" fill="#ef5350"/>
<rect x="1516.0" y="179.2" width="60.0" height="30.8" rx="2" fill="#ef5350"/>
<text x="1464.9" y="191.92" font-size="12.6" fill="#ffffff" textLength="45.1" lengthAdjust="spacingAndGlyphs" font-weight="bold" >CLK2024</text>
<text x="1524.3" y="191.92" font-size="12.6" fill="#ffffff" textLength="29.2" lengthAdjust="spacingAndGlyphs" font-weight="bold" >86.08</text>
<text x="1524.3" y="205.92" font-size="12.6" fill="#fbd9d8" textLength="45.5" lengthAdjust="spacingAndGlyphs" >10:57:31</text>
<rect x="1516.0" y="320.1" width="43.0" height="16.7" rx="2" fill="#000000"/>
<text x="1524.3" y="332.72" font-size="12.6" fill="#ffffff" textLength="29.2" lengthAdjust="spacingAndGlyphs" font-weight="bold" >79.77</text>
<rect x="1464.2" y="337.1" width="50.8" height="16.8" rx="2" fill="#3a2cff"/>
<rect x="1516.0" y="337.1" width="43.0" height="16.8" rx="2" fill="#3a2cff"/>
<text x="1469.0" y="349.72" font-size="12.6" fill="#ffffff" textLength="41.4" lengthAdjust="spacingAndGlyphs" font-weight="bold" >SMA:MA</text>
<text x="1524.3" y="349.72" font-size="12.6" fill="#ffffff" textLength="29.2" lengthAdjust="spacingAndGlyphs" font-weight="bold" >79.20</text>
<rect x="1464.2" y="354.3" width="50.8" height="16.5" rx="2" fill="#f23645"/>
<rect x="1516.0" y="354.3" width="43.0" height="16.5" rx="2" fill="#f23645"/>
<text x="1469.0" y="366.82" font-size="12.6" fill="#ffffff" textLength="41.4" lengthAdjust="spacingAndGlyphs" font-weight="bold" >SMA:MA</text>
<text x="1524.3" y="366.82" font-size="12.6" fill="#ffffff" textLength="29.2" lengthAdjust="spacingAndGlyphs" font-weight="bold" >79.10</text>
<rect x="1516.0" y="373.3" width="43.0" height="16.5" rx="2" fill="#131722"/>
<text x="1524.3" y="385.82" font-size="12.6" fill="#ffffff" textLength="29.2" lengthAdjust="spacingAndGlyphs" font-weight="bold" >77.40</text>
<rect x="1516.0" y="483.3" width="43.0" height="16.7" rx="2" fill="#ff9800"/>
<text x="1524.3" y="495.82" font-size="12.6" fill="#000000" textLength="29.2" lengthAdjust="spacingAndGlyphs" >72.46</text>
<rect x="1516.0" y="538.2" width="43.0" height="16.7" rx="2" fill="#9c27b0"/>
<text x="1524.3" y="550.72" font-size="12.6" fill="#ffffff" textLength="29.2" lengthAdjust="spacingAndGlyphs" font-weight="bold" >70.00</text>
<rect x="1516.0" y="605.2" width="43.0" height="16.7" rx="2" fill="#ff9800"/>
<text x="1524.3" y="617.72" font-size="12.6" fill="#000000" textLength="29.2" lengthAdjust="spacingAndGlyphs" >67.00</text>
<rect x="1489.0" y="702.1" width="26.0" height="16.7" rx="2" fill="#7e57c2"/>
<rect x="1516.0" y="702.1" width="43.0" height="16.7" rx="2" fill="#7e57c2"/>
<text x="1494.3" y="714.92" font-size="12.6" fill="#ffffff" textLength="15.6" lengthAdjust="spacingAndGlyphs" font-weight="bold" >RSI</text>
<text x="1524.3" y="714.92" font-size="12.6" fill="#ffffff" textLength="29.2" lengthAdjust="spacingAndGlyphs" font-weight="bold" >69.64</text>
<rect x="1423.1" y="718.8" width="93.4" height="16.9" rx="2" fill="#ffffff"/>
<rect x="1516.0" y="718.8" width="43.0" height="16.9" rx="2" fill="#ffffff"/>
<text x="1427.5" y="731.22" font-size="12.6" fill="#000000" textLength="82.3" lengthAdjust="spacingAndGlyphs" >Regular Bearish</text>
<text x="1524.3" y="731.22" font-size="12.6" fill="#000000" textLength="29.2" lengthAdjust="spacingAndGlyphs" >67.40</text>
<rect x="1434.9" y="736.1" width="80.1" height="16.7" rx="2" fill="#ffeb3b"/>
<rect x="1516.0" y="736.1" width="43.0" height="16.7" rx="2" fill="#ffeb3b"/>
<text x="1439.8" y="748.62" font-size="12.6" fill="#000000" textLength="70.0" lengthAdjust="spacingAndGlyphs" >RSI-based MA</text>
<text x="1524.3" y="748.62" font-size="12.6" fill="#000000" textLength="29.2" lengthAdjust="spacingAndGlyphs" >65.80</text>
<rect x="1426.0" y="752.8" width="90.5" height="16.7" rx="2" fill="#ffffff"/>
<rect x="1516.0" y="752.8" width="43.0" height="16.7" rx="2" fill="#ffffff"/>
<text x="1431.5" y="765.22" font-size="12.6" fill="#000000" textLength="78.3" lengthAdjust="spacingAndGlyphs" >Regular Bullish</text>
<text x="1524.3" y="765.22" font-size="12.6" fill="#000000" textLength="29.2" lengthAdjust="spacingAndGlyphs" >58.20</text>
</g>
<g font-family='"Liberation Sans", sans-serif'>
<text x="23.8" y="811.62" font-size="12.6" fill="#4a4e59" text-anchor="middle" >Oct</text>
<text x="114.7" y="811.62" font-size="12.6" fill="#4a4e59" text-anchor="middle" >16</text>
<text x="223.8" y="811.62" font-size="12.6" fill="#4a4e59" text-anchor="middle" >Nov</text>
<text x="305.6" y="811.62" font-size="12.6" fill="#4a4e59" text-anchor="middle" >14</text>
<text x="414.7" y="811.62" font-size="12.6" fill="#4a4e59" text-anchor="middle" >Dec</text>
<text x="514.7" y="811.62" font-size="12.6" fill="#4a4e59" text-anchor="middle" >18</text>
<text x="596.5" y="811.62" font-size="12.6" fill="#363a45" text-anchor="middle" font-weight="bold" >2024</text>
<text x="678.3" y="811.62" font-size="12.6" fill="#4a4e59" text-anchor="middle" >16</text>
<text x="787.4" y="811.62" font-size="12.6" fill="#4a4e59" text-anchor="middle" >Feb</text>
<text x="869.2" y="811.62" font-size="12.6" fill="#4a4e59" text-anchor="middle" >14</text>
<text x="969.1" y="811.62" font-size="12.6" fill="#4a4e59" text-anchor="middle" >Mar</text>
<text x="1069.1" y="811.62" font-size="12.6" fill="#4a4e59" text-anchor="middle" >18</text>
<text x="1150.9" y="811.62" font-size="12.6" fill="#4a4e59" text-anchor="middle" >Apr</text>
<text x="1241.8" y="811.62" font-size="12.6" fill="#4a4e59" text-anchor="middle" >15</text>
<text x="1350.9" y="811.62" font-size="12.6" fill="#4a4e59" text-anchor="middle" >May</text>
<text x="1469.1" y="811.62" font-size="12.6" fill="#4a4e59" text-anchor="middle" >20</text>
</g>
<g fill="#1e222d">
<path d="M10 834.1 H17.9 V843.9 H13.9 V837.9 H10 Z"/>
<circle cx="20.9" cy="836.0" r="2.0"/>
<path d="M24.4 834.1 H29.4 L25.7 843.9 H20.6 Z"/>
</g>
<g font-family='"Liberation Sans", sans-serif'>
<text x="33.4" y="843.95" font-size="14" fill="#1e222d" textLength="69.6" lengthAdjust="spacingAndGlyphs" >TradingView</text>
</g>
<defs><filter id="ws" x="-10%" y="-20%" width="120%" height="150%"><feGaussianBlur in="SourceAlpha" stdDeviation="0.9"/><feOffset dx="1.8" dy="1.8" result="b"/><feFlood flood-color="#4a4a5a" flood-opacity="0.75"/><feComposite in2="b" operator="in"/><feMerge><feMergeNode/><feMergeNode in="SourceGraphic"/></feMerge></filter><filter id="bs" x="-10%" y="-20%" width="120%" height="150%"><feGaussianBlur in="SourceAlpha" stdDeviation="0.6"/><feOffset dx="1.5" dy="1.5" result="b"/><feFlood flood-color="#46709c" flood-opacity="0.85"/><feComposite in2="b" operator="in"/><feMerge><feMergeNode/><feMergeNode in="SourceGraphic"/></feMerge></filter></defs>
<g filter="url(#ws)" opacity="0.9"><g fill="#ffffff" fill-opacity="0.93" fill-rule="evenodd">
<polygon points="1355.6,764.9 1366.0,764.9 1365.3,779.4 1355.9,779.4"/>
<polygon points="1376.8,764.9 1387.3,764.9 1386.2,767.5 1407.8,767.5 1406.0,774.2 1378.7,774.2 1375.3,776.1 1366.8,776.1 1368.2,773.1"/>
<polygon points="1369.4,777.2 1404.5,777.2 1403.0,783.5 1367.9,783.5"/>
<polygon points="1397.7,777.2 1404.5,777.2 1395.5,816.8 1388.8,816.8"/>
<polygon points="1367.9,783.5 1375.3,783.5 1367.1,811.5 1360.4,811.5"/>
<polygon points="1349.2,792.9 1402.2,792.9 1400.7,800.3 1347.7,800.3"/>
<polygon points="1360.4,810.8 1394.8,810.8 1393.3,817.5 1358.9,817.5"/>
<polygon points="1383.6,783.9 1388.8,783.9 1391.8,792.9 1386.5,792.9"/>
<polygon points="1380.6,800.3 1385.1,800.3 1387.3,810.8 1382.8,810.8"/>
<polygon points="1351.1,782.4 1360.8,782.4 1360.0,791.7 1350.3,791.7"/>
<polygon points="1342.1,818.3 1352.2,818.3 1361.9,798.5 1352.6,797.0 1354.1,801.8 1348.5,813.8"/>
<polygon points="1417.0,766.0 1466.3,766.0 1465.2,771.9 1415.6,771.9"/>
<polygon points="1417.0,771.9 1423.8,771.9 1420.8,785.0 1414.1,785.0"/>
<polygon points="1409.2,785.8 1462.2,785.8 1460.7,794.0 1407.0,794.0"/>
<polygon points="1407.0,800.7 1448.0,800.7 1445.8,808.9 1404.7,808.9"/>
<polygon points="1459.6,771.9 1465.2,771.9 1455.5,813.8 1449.2,813.8"/>
<polygon points="1430.9,812.3 1455.9,812.3 1453.3,819.0 1430.1,819.0"/>
<polygon points="1467.5,767.5 1474.2,767.5 1465.2,804.8 1457.0,804.8"/>
<polygon points="1472.7,767.5 1495.1,767.5 1493.2,774.2 1470.8,774.2"/>
<polygon points="1488.8,774.2 1495.1,774.2 1484.6,804.8 1478.3,804.8"/>
<polygon points="1461.5,798.8 1482.4,798.8 1480.9,804.8 1460.0,804.8"/>
<polygon points="1464.5,804.8 1473.4,804.8 1466.7,818.3 1457.8,818.3"/>
<polygon points="1478.7,801.8 1485.4,801.8 1491.4,816.8 1482.4,816.8"/>
<polygon points="1500.3,777.6 1515.3,777.6 1513.8,782.8 1498.8,782.8"/>
<polygon points="1522.0,767.5 1528.7,767.5 1517.5,812.3 1513.8,819.0 1501.8,819.0 1503.3,813.8 1511.5,813.8"/>
<polygon points="1507.8,782.8 1514.5,782.8 1501.8,816.8 1492.9,816.8"/>
<polygon points="1545.9,766.0 1553.3,766.0 1540.6,780.9 1533.2,780.9"/>
<polygon points="1551.1,778.7 1557.8,778.7 1540.6,797.3 1533.2,797.3"/>
<polygon points="1530.2,784.6 1540.6,784.6 1538.4,789.9 1528.7,789.9"/>
<polygon points="1525.0,800.3 1548.1,800.3 1545.9,805.6 1523.5,805.6"/>
<polygon points="1522.0,812.3 1544.4,812.3 1542.1,818.3 1520.5,818.3"/>
<polygon points="1556.3,767.5 1575.7,767.5 1574.3,772.7 1554.8,772.7"/>
<polygon points="1568.3,772.7 1575.7,772.7 1557.8,792.9 1548.9,792.9"/>
<polygon points="1566.8,785.4 1575.0,781.7 1583.2,785.4 1581.7,792.1 1574.3,792.1"/>
<polygon points="1586.2,764.5 1590.0,764.5 1590.0,769.7 1578.0,782.4 1575.0,780.2"/>
<polygon points="1548.9,795.1 1581.7,795.1 1580.2,801.1 1547.4,801.1"/>
<polygon points="1560.8,801.1 1568.3,801.1 1564.5,812.3 1557.1,812.3"/>
<polygon points="1545.9,812.3 1577.2,812.3 1575.0,819.0 1543.6,819.0"/>
</g></g>
<g filter="url(#bs)"><g font-family='"Liberation Sans", sans-serif' font-weight="bold" font-style="italic" font-size="30" fill="#7db9ed" stroke="#7db9ed" stroke-width="2.2" stroke-linejoin="round">
<text transform="translate(1364.2 850.3) scale(1.12 1)" x="0" y="0" text-anchor="middle">z</text>
<text transform="translate(1390.9 850.3) scale(1.12 1)" x="0" y="0" text-anchor="middle">z</text>
<text transform="translate(1418.1 850.3) scale(1.12 1)" x="0" y="0" text-anchor="middle">r</text>
<text transform="translate(1440.8 850.3) scale(1.12 1)" x="0" y="0" text-anchor="middle">t</text>
<text transform="translate(1463.6 850.3) scale(1.12 1)" x="0" y="0" text-anchor="middle">0</text>
<text transform="translate(1495.1 850.3) scale(1.12 1)" x="0" y="0" text-anchor="middle">1</text>
<text transform="translate(1516.7 850.3) scale(1.12 1)" x="0" y="0" text-anchor="middle">.</text>
<text transform="translate(1540.7 850.3) scale(1.12 1)" x="0" y="0" text-anchor="middle">c</text>
<text transform="translate(1567.8 850.3) scale(1.12 1)" x="0" y="0" text-anchor="middle">n</text>
</g></g>
</svg>
</body></html>
